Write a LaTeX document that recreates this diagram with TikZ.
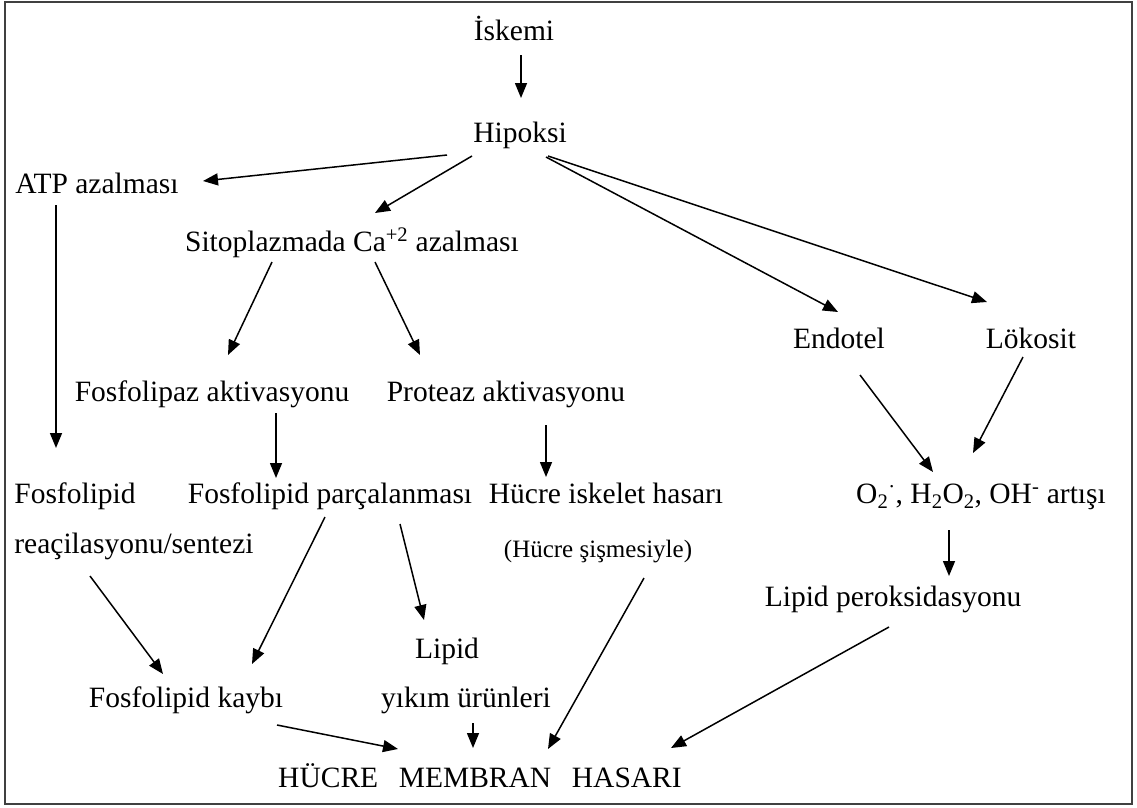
\documentclass[tikz,border=0pt]{standalone}
\usepackage{fontspec}
\setmainfont{Liberation Serif}
\usetikzlibrary{arrows.meta}
\begin{document}
\begin{tikzpicture}[x=1pt,y=-1pt,
  lbl/.style={inner sep=0pt,anchor=base,font=\fontsize{29.5}{34}\selectfont,text=black},
  arr/.style={line width=1.5pt,draw=black,-{Triangle[length=15pt,width=12pt]}}]
\useasboundingbox (0,0) rectangle (1137,807);
\draw[line width=2pt,draw=black!75] (5,1.5) rectangle (1132,804);
% nodes
\node[lbl] (isk) at (514,40) {İskemi};
\node[lbl] (hip) at (520,142) {Hipoksi};
\node[lbl] (atp) at (97,193) {ATP azalması};
\node[lbl] (sito) at (352,251) {Sitoplazmada Ca\textsuperscript{+2} azalması};
\node[lbl] (endo) at (839,348) {Endotel};
\node[lbl] (loko) at (1031,348) {Lökosit};
\node[lbl] (fosaz) at (212,401) {Fosfolipaz aktivasyonu};
\node[lbl] (prot) at (506,401) {Proteaz aktivasyonu};
\node[lbl] (fosl) at (75,503) {Fosfolipid};
\node[lbl] (fparc) at (330,503) {Fosfolipid parçalanması};
\node[lbl] (hisk) at (606,503) {Hücre iskelet hasarı};
\node[lbl] (oxy) at (981,503) {O\textsubscript{2}\textsuperscript{·}, H\textsubscript{2}O\textsubscript{2}, OH\textsuperscript{-} artışı};
\node[lbl] (reac) at (134,553) {reaçilasyonu/sentezi};
\node[lbl,font=\fontsize{25}{30}\selectfont] (hsis) at (598,557) {(Hücre şişmesiyle)};
\node[lbl] (lperox) at (893,606) {Lipid peroksidasyonu};
\node[lbl] (lipid) at (447,658) {Lipid};
\node[lbl] (fkayb) at (186,707) {Fosfolipid kaybı};
\node[lbl] (yikim) at (466,707) {yıkım ürünleri};
\node[lbl] (hmh) at (480,787) {HÜCRE\hspace{0.7em}MEMBRAN\hspace{0.7em}HASARI};
% connectors
\draw[arr] ([shift={(7,15)}]isk.base) -- ([shift={(1,-44)}]hip.base);
\draw[arr] ([shift={(-73,13)}]hip.base) -- ([shift={(106,-12)}]atp.base);
\draw[arr] ([shift={(-48,14)}]hip.base) -- ([shift={(23,-38)}]sito.base);
\draw[arr] ([shift={(26,15)}]hip.base) -- ([shift={(-1,-36)}]endo.base);
\draw[arr] ([shift={(28,14)}]hip.base) -- ([shift={(-44,-46)}]loko.base);
\draw[arr] ([shift={(-41,12)}]atp.base) -- ([shift={(-19,-55)}]fosl.base);
\draw[arr] ([shift={(-80,11)}]sito.base) -- ([shift={(16,-46)}]fosaz.base);
\draw[arr] ([shift={(23,11)}]sito.base) -- ([shift={(-86,-46)}]prot.base);
\draw[arr] ([shift={(64,12)}]fosaz.base) -- ([shift={(-54,-25)}]fparc.base);
\draw[arr] ([shift={(40,24)}]prot.base) -- ([shift={(-60,-26)}]hisk.base);
\draw[arr] ([shift={(21,27)}]endo.base) -- ([shift={(-48,-31)}]oxy.base);
\draw[arr] ([shift={(-8,9)}]loko.base) -- ([shift={(-8,-50)}]oxy.base);
\draw[arr] ([shift={(-32,27)}]oxy.base) -- ([shift={(56,-30)}]lperox.base);
\draw[arr] ([shift={(-44,23)}]reac.base) -- ([shift={(-23,-33)}]fkayb.base);
\draw[arr] ([shift={(-5,14)}]fparc.base) -- ([shift={(66,-43)}]fkayb.base);
\draw[arr] ([shift={(70,21)}]fparc.base) -- ([shift={(-23,-38)}]lipid.base);
\draw[arr] ([shift={(46,21)}]hsis.base) -- ([shift={(68,-38)}]hmh.base);
\draw[arr] ([shift={(-4,21)}]lperox.base) -- ([shift={(191,-39)}]hmh.base);
\draw[arr] ([shift={(91,18)}]fkayb.base) -- ([shift={(-82,-38)}]hmh.base);
\draw[arr] ([shift={(7,16)}]yikim.base) -- ([shift={(-7,-39)}]hmh.base);
\end{tikzpicture}
\end{document}
